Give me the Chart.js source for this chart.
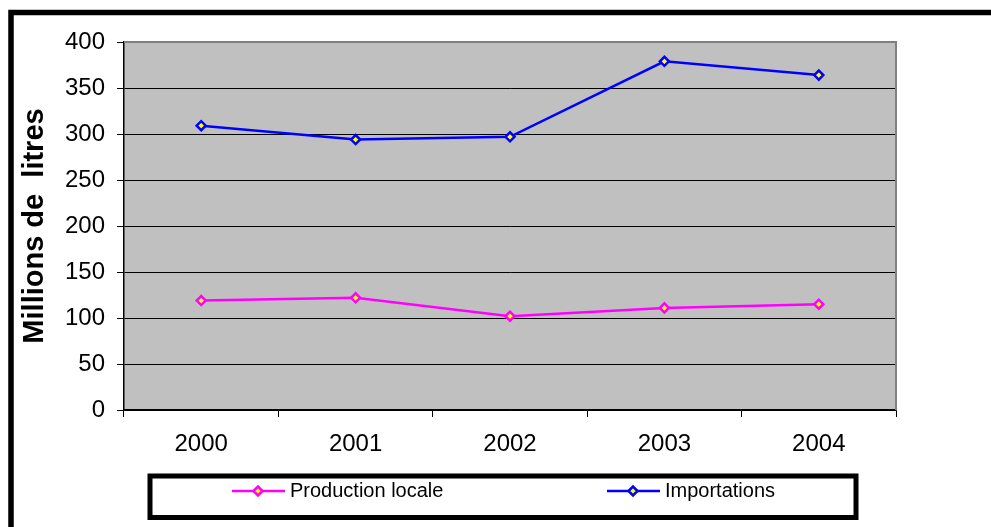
<!DOCTYPE html>
<html>
<head>
<meta charset="utf-8">
<script src="https://cdn.jsdelivr.net/npm/chart.js@4"></script>
<style>
html,body{margin:0;padding:0;background:#fff;}
#wrap{position:relative;width:991px;height:527px;overflow:hidden;}
</style>
</head>
<body>
<div id="wrap"><canvas id="chart" width="991" height="527"></canvas></div>
<script>
const years=["2000","2001","2002","2003","2004"];
const production=[119,122,102,111,115];
const importations=[309,294,297,379,364];
const yMin=0,yMax=400,yStep=50;
const yTitle="Millions de  litres";
const FONT="'Liberation Sans', Arial, sans-serif";

function diamond(ctx,x,y,r,stroke){
ctx.beginPath();
ctx.moveTo(x-r,y);ctx.lineTo(x,y-r);ctx.lineTo(x+r,y);ctx.lineTo(x,y+r);ctx.closePath();
ctx.fillStyle="#ffff00";ctx.fill();
ctx.lineWidth=2.5;ctx.strokeStyle=stroke;ctx.stroke();
}

// cadre, fond gris, légende encadrée
const excelLook={
id:"excelLook",
beforeDraw(chart){
const ctx=chart.ctx,a=chart.chartArea;
ctx.save();
ctx.fillStyle="#fff";ctx.fillRect(0,0,chart.width,chart.height);
ctx.lineWidth=5.5;ctx.strokeStyle="#000";
ctx.strokeRect(11,12.5,1200,800);
ctx.fillStyle="#c0c0c0";
ctx.fillRect(a.left,a.top,a.right-a.left,a.bottom-a.top);
ctx.restore();
},
beforeDatasetsDraw(chart){
const ctx=chart.ctx,a=chart.chartArea;
ctx.save();
ctx.strokeStyle="#808080";ctx.lineWidth=2;
ctx.beginPath();
ctx.moveTo(a.left,a.top);ctx.lineTo(a.right,a.top);ctx.lineTo(a.right,a.bottom);
ctx.stroke();
ctx.restore();
},
afterDraw(chart){
const ctx=chart.ctx;
ctx.save();
ctx.lineWidth=5;ctx.strokeStyle="#000";
ctx.strokeRect(150,476,706,41.5);
const items=[{x:232},{x:607}];
chart.data.datasets.forEach((ds,i)=>{
const x0=items[i].x,y=491;
ctx.strokeStyle=ds.borderColor;ctx.lineWidth=2.5;
ctx.beginPath();ctx.moveTo(x0,y);ctx.lineTo(x0+53,y);ctx.stroke();
diamond(ctx,x0+26,y,4.5,ds.borderColor);
ctx.fillStyle="#000";ctx.font="20px "+FONT;
ctx.textBaseline="middle";ctx.textAlign="left";
ctx.fillText(ds.label,x0+58,y);
});
ctx.restore();
}
};

const ctx=document.getElementById("chart").getContext("2d");
const chart=new Chart(ctx,{
type:"line",
data:{
labels:years,
datasets:[{
label:"Production locale",
data:production,
borderColor:"#ff00ff",
borderWidth:2.5,
pointStyle:"rectRot",
pointRadius:4.5,
pointBorderWidth:2.5,
pointBackgroundColor:"#ffff00",
pointBorderColor:"#ff00ff",
tension:0
},{
label:"Importations",
data:importations,
borderColor:"#0000ff",
borderWidth:2.5,
pointStyle:"rectRot",
pointRadius:4.5,
pointBorderWidth:2.5,
pointBackgroundColor:"#ffff00",
pointBorderColor:"#0000ff",
tension:0
}]
},
options:{
responsive:false,
animation:false,
devicePixelRatio:1,
layout:{padding:{top:42,right:95,bottom:0,left:0}},
plugins:{legend:{display:false},tooltip:{enabled:false}},
scales:{
x:{
offset:true,
grid:{offset:true,drawOnChartArea:false,drawTicks:true,tickLength:7,tickColor:"#000"},
border:{color:"#000",width:1.5},
ticks:{color:"#000",font:{family:FONT,size:24},padding:13,maxRotation:0},
afterFit(s){s.height=117;}
},
y:{
min:yMin,max:yMax,
grid:{color:"#000",lineWidth:1,tickLength:7,tickColor:"#000"},
border:{color:"#000",width:1.5},
ticks:{stepSize:yStep,color:"#000",font:{family:FONT,size:24},padding:12},
title:{display:true,text:yTitle,color:"#000",font:{family:FONT,size:29,weight:"bold"},padding:{top:18,bottom:0},lineHeight:1},
afterFit(s){s.width=124;}
}
}
},
plugins:[excelLook]
});
</script>
</body>
</html>
